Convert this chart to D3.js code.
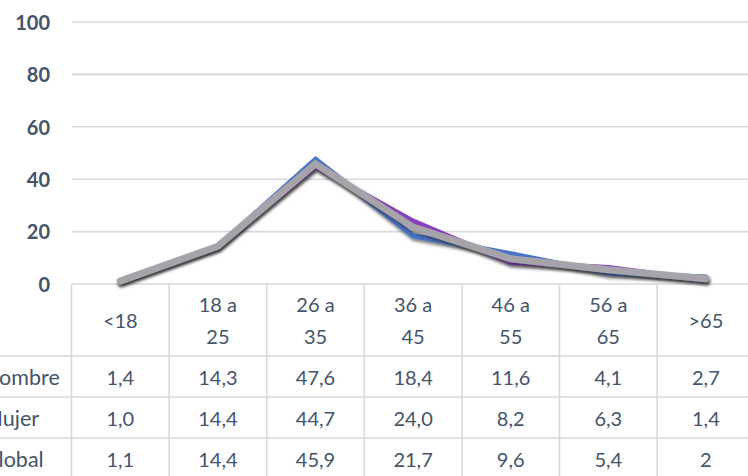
<!DOCTYPE html>
<html>
<head>
<meta charset="utf-8">
<script src="https://cdn.jsdelivr.net/npm/d3@7"></script>
<style>
  html, body { margin: 0; padding: 0; background: #fff; overflow: hidden; }
  svg { display: block; }
  text { font-family: Lato, "Open Sans", sans-serif; }
</style>
</head>
<body>
<svg id="chart" width="748" height="476"></svg>
<script>
// Age groups (header lines of the data table)
const categories = ["<18", "18 a 25", "26 a 35", "36 a 45", "46 a 55", "56 a 65", ">65"];
const categoryLines = [["<18"], ["18 a", "25"], ["26 a", "35"], ["36 a", "45"], ["46 a", "55"], ["56 a", "65"], [">65"]];

// Percentages per age group, written as shown in the table
const hombre = ["1,4", "14,3", "47,6", "18,4", "11,6", "4,1", "2,7"];
const mujer  = ["1,0", "14,4", "44,7", "24,0", "8,2", "6,3", "1,4"];
const global = ["1,1", "14,4", "45,9", "21,7", "9,6", "5,4", "2"];

const seriesNames = ["Hombre", "Mujer", "Global"];
const yTicks = [0, 20, 40, 60, 80, 100];

const toNum = s => +s.replace(",", ".");
const series = [
  { name: "Hombre", labels: hombre, color: "#4a74c9", width: 5 },
  { name: "Mujer",  labels: mujer,  color: "#8a3fc0", width: 5 },
  { name: "Global", labels: global, color: "#a6a4aa", width: 7 }
];

const svg = d3.select("#chart");
const W = 748, H = 476;

const x = d3.scaleBand().domain(categories).range([71.5, 754.7]).padding(0);
const y = d3.scaleLinear().domain([0, 100]).range([284, 22]);
const cx = c => x(c) + x.bandwidth() / 2;

const textColor = "#44546a";
const gridColor = "#d9d9d9";

// Drop shadow for the lines
const defs = svg.append("defs");
const f = defs.append("filter").attr("id", "shadow")
  .attr("x", "-10%").attr("y", "-20%").attr("width", "120%").attr("height", "140%");
f.append("feDropShadow").attr("dx", 1).attr("dy", 2.5).attr("stdDeviation", 1.6)
  .attr("flood-color", "#1a1a1a").attr("flood-opacity", 0.6);
const soft = defs.append("filter").attr("id", "soft");
soft.append("feGaussianBlur").attr("stdDeviation", 0.6);

// Horizontal gridlines
svg.append("g").selectAll("line").data(yTicks.filter(d => d > 0)).join("line")
  .attr("x1", 72).attr("x2", W)
  .attr("y1", d => y(d)).attr("y2", d => y(d))
  .attr("stroke", gridColor).attr("stroke-width", 1.6);

// Y axis labels
const yAxis = d3.axisLeft(y).tickValues(yTicks).tickSize(0).tickPadding(0);
const gy = svg.append("g").attr("transform", "translate(50,0)").call(yAxis);
gy.select(".domain").remove();
gy.selectAll("text")
  .attr("font-size", 20).attr("font-weight", "bold")
  .attr("fill", textColor).attr("dy", "0.36em").attr("x", 0)
  .style("font-family", "Lato, 'Open Sans', sans-serif");

// Data table
const headerTop = 284, headerH = 72, rowH = 41;
const rowTop = i => headerTop + headerH + i * rowH;
const tbl = svg.append("g");

// horizontal borders
tbl.append("line").attr("x1", x.range()[0]).attr("x2", W)
  .attr("y1", headerTop).attr("y2", headerTop)
  .attr("stroke", gridColor).attr("stroke-width", 1.6);
tbl.selectAll("line.h").data(d3.range(series.length + 1)).join("line").attr("class", "h")
  .attr("x1", 0).attr("x2", W)
  .attr("y1", i => rowTop(i)).attr("y2", i => rowTop(i))
  .attr("stroke", gridColor).attr("stroke-width", 1.6);
// vertical borders
tbl.selectAll("line.v").data(categories.concat(["end"])).join("line").attr("class", "v")
  .attr("x1", (d, i) => x.range()[0] + i * x.bandwidth())
  .attr("x2", (d, i) => x.range()[0] + i * x.bandwidth())
  .attr("y1", headerTop).attr("y2", H)
  .attr("stroke", gridColor).attr("stroke-width", 1.6);

// header labels
const hdr = tbl.selectAll("text.hdr").data(categories).join("text").attr("class", "hdr")
  .attr("text-anchor", "middle").attr("font-size", 20).attr("fill", textColor);
hdr.each(function (c, i) {
  const lines = categoryLines[i];
  const mid = headerTop + headerH / 2 + 1;
  const step = 32;
  d3.select(this).selectAll("tspan").data(lines).join("tspan")
    .attr("x", cx(c))
    .attr("y", (l, j) => mid + (j - (lines.length - 1) / 2) * step)
    .attr("dy", "0.36em")
    .text(l => l);
});

// row names (the label column runs past the left edge) and values
series.forEach((s, r) => {
  const yc = rowTop(r) + rowH / 2 + 1;
  tbl.append("text").attr("x", -17).attr("y", yc).attr("dy", "0.36em")
    .attr("font-size", 21.5).attr("fill", textColor).text(seriesNames[r]);
  tbl.selectAll("text.v" + r).data(s.labels).join("text").attr("class", "v" + r)
    .attr("x", (d, i) => cx(categories[i])).attr("y", yc).attr("dy", "0.36em")
    .attr("text-anchor", "middle").attr("font-size", 20).attr("fill", textColor)
    .text(d => d);
});

// Lines
const line = d3.line().x((d, i) => cx(categories[i])).y(d => y(toNum(d)));
const lg = svg.append("g").attr("filter", "url(#soft)");
series.forEach(s => {
  lg.append("path").datum(s.labels)
    .attr("d", line)
    .attr("fill", "none")
    .attr("stroke", s.color)
    .attr("stroke-width", s.width)
    .attr("stroke-linejoin", "miter")
    .attr("stroke-linecap", "round")
    .attr("filter", "url(#shadow)");
});
</script>
</body>
</html>
